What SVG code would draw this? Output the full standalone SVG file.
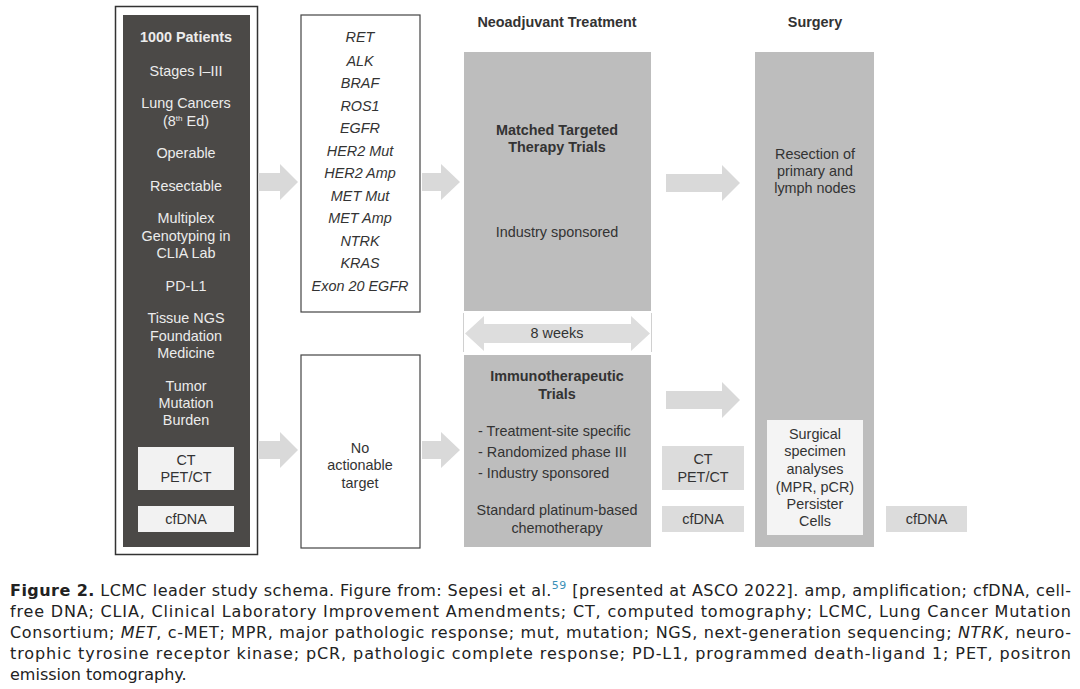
<svg xmlns="http://www.w3.org/2000/svg" width="1080" height="689" viewBox="0 0 1080 689">
<style>
  text { font-family: "Liberation Sans", Arial, sans-serif; font-size: 14.4px; fill: #333333; }
  .c { text-anchor: middle; }
  .w { fill: #ececec; }
  .b { font-weight: bold; }
  .i { font-style: italic; }
  .arrow { fill: #d9d9d9; }
  .dark { fill: #4b4947; }
  .gray { fill: #bdbdbd; }
  .light { fill: #dcdcdc; }
  .cap { font-family: "DejaVu Sans", Verdana, sans-serif; font-size: 16px; fill: #222222; }
</style>
<rect width="1080" height="689" fill="#ffffff"/>

<g id="patients">
  <rect x="115.5" y="6.5" width="142" height="548" fill="#ffffff" stroke="#333333" stroke-width="1.5"/>
  <rect x="123" y="15" width="127" height="532" class="dark"/>
  <text x="186" y="42" class="c w b">1000 Patients</text>
  <text x="186" y="76" class="c w">Stages I–III</text>
  <text x="186" y="108" class="c w">Lung Cancers</text>
  <text x="186" y="126" class="c w">(8<tspan font-size="8" dy="-5">th</tspan><tspan dy="5"> Ed)</tspan></text>
  <text x="186" y="158" class="c w">Operable</text>
  <text x="186" y="191" class="c w">Resectable</text>
  <text x="186" y="223" class="c w">Multiplex</text>
  <text x="186" y="241" class="c w">Genotyping in</text>
  <text x="186" y="258" class="c w">CLIA Lab</text>
  <text x="186" y="291" class="c w">PD-L1</text>
  <text x="186" y="323" class="c w">Tissue NGS</text>
  <text x="186" y="341" class="c w">Foundation</text>
  <text x="186" y="358" class="c w">Medicine</text>
  <text x="186" y="391" class="c w">Tumor</text>
  <text x="186" y="408" class="c w">Mutation</text>
  <text x="186" y="425" class="c w">Burden</text>
  <rect x="138" y="447" width="96" height="43" fill="#f2f2f2"/>
  <text x="186" y="465" class="c">CT</text>
  <text x="186" y="482" class="c">PET/CT</text>
  <rect x="138" y="506" width="96" height="26" fill="#f2f2f2"/>
  <text x="186" y="524" class="c">cfDNA</text>
</g>

<g id="targets">
  <rect x="301" y="15" width="119" height="297" fill="#ffffff" stroke="#444444" stroke-width="1.2"/>
  <text x="360" y="42" class="c i">RET</text>
  <text x="360" y="66" class="c i">ALK</text>
  <text x="360" y="88" class="c i">BRAF</text>
  <text x="360" y="111" class="c i">ROS1</text>
  <text x="360" y="133" class="c i">EGFR</text>
  <text x="360" y="156" class="c i">HER2 Mut</text>
  <text x="360" y="178" class="c i">HER2 Amp</text>
  <text x="360" y="201" class="c i">MET Mut</text>
  <text x="360" y="223" class="c i">MET Amp</text>
  <text x="360" y="246" class="c i">NTRK</text>
  <text x="360" y="268" class="c i">KRAS</text>
  <text x="360" y="291" class="c i">Exon 20 EGFR</text>
</g>

<g id="no-target">
  <rect x="301" y="355" width="119" height="193" fill="#ffffff" stroke="#444444" stroke-width="1.2"/>
  <text x="360" y="453" class="c">No</text>
  <text x="360" y="470" class="c">actionable</text>
  <text x="360" y="488" class="c">target</text>
</g>

<g id="headers">
  <text x="557" y="27" class="c b">Neoadjuvant Treatment</text>
  <text x="815" y="27" class="c b">Surgery</text>
</g>

<g id="matched">
  <rect x="464" y="52" width="187" height="259" class="gray"/>
  <text x="557" y="135" class="c b">Matched Targeted</text>
  <text x="557" y="152" class="c b">Therapy Trials</text>
  <text x="557" y="237" class="c">Industry sponsored</text>
</g>

<g id="immuno">
  <rect x="464" y="355" width="187" height="192" class="gray"/>
  <text x="557" y="381" class="c b">Immunotherapeutic</text>
  <text x="557" y="399" class="c b">Trials</text>
  <text x="478" y="436">- Treatment-site specific</text>
  <text x="478" y="457">- Randomized phase III</text>
  <text x="478" y="478">- Industry sponsored</text>
  <text x="557" y="515" class="c">Standard platinum-based</text>
  <text x="557" y="533" class="c">chemotherapy</text>
</g>

<g id="imaging-mid">
  <rect x="662" y="446" width="82" height="44" class="light"/>
  <text x="703" y="464" class="c">CT</text>
  <text x="703" y="482" class="c">PET/CT</text>
  <rect x="662" y="506" width="82" height="26" class="light"/>
  <text x="703" y="524" class="c">cfDNA</text>
</g>

<g id="surgery">
  <rect x="755" y="52" width="119" height="495" class="gray"/>
  <text x="815" y="159" class="c">Resection of</text>
  <text x="815" y="176" class="c">primary and</text>
  <text x="815" y="193" class="c">lymph nodes</text>
  <rect x="767" y="420" width="96" height="115" fill="#f4f4f4"/>
  <text x="815" y="439" class="c">Surgical</text>
  <text x="815" y="456" class="c">specimen</text>
  <text x="815" y="474" class="c">analyses</text>
  <text x="815" y="492" class="c">(MPR, pCR)</text>
  <text x="815" y="509" class="c">Persister</text>
  <text x="815" y="526" class="c">Cells</text>
</g>

<g id="cfdna-right">
  <rect x="886" y="506" width="81" height="26" class="light"/>
  <text x="926.5" y="524" class="c">cfDNA</text>
</g>

<g id="connectors">
  <path class="arrow" d="M258,173 H280 V164 L298,182 L280,200 V191 H258 Z"/>
  <path class="arrow" d="M422,173 H441 V164 L460,182 L441,200 V191 H422 Z"/>
  <path class="arrow" d="M666,174 H722 V165 L740,183 L722,201 V192 H666 Z"/>
  <path class="arrow" d="M258,441 H280 V432 L298,450 L280,468 V459 H258 Z"/>
  <path class="arrow" d="M422,441 H441 V432 L460,450 L441,468 V459 H422 Z"/>
  <path class="arrow" d="M666,391 H722 V382 L740,400 L722,418 V409 H666 Z"/>
  <g id="eight-weeks">
    <line x1="463.5" y1="313" x2="463.5" y2="352" stroke="#d0d0d0" stroke-width="1"/>
    <line x1="651.5" y1="313" x2="651.5" y2="352" stroke="#d0d0d0" stroke-width="1"/>
    <path d="M465,333.5 L484,316 V324 H631 V316 L650,333.5 L631,351 V343 H484 V351 Z" fill="#dddddd"/>
    <text x="557" y="338" class="c">8 weeks</text>
  </g>
</g>

<g id="caption">
  <text x="10" y="596" class="cap" textLength="1061" lengthAdjust="spacing"><tspan font-weight="bold">Figure 2.</tspan> LCMC leader study schema. Figure from: Sepesi et al.<tspan font-size="11" dy="-7" fill="#3a8fb7">59</tspan><tspan dy="7"> [presented at ASCO 2022]. amp, amplification; cfDNA, cell-</tspan></text>
  <text x="10" y="617" class="cap" textLength="1061" lengthAdjust="spacing">free DNA; CLIA, Clinical Laboratory Improvement Amendments; CT, computed tomography; LCMC, Lung Cancer Mutation</text>
  <text x="10" y="638" class="cap" textLength="1061" lengthAdjust="spacing">Consortium; <tspan font-style="italic">MET</tspan>, c-MET; MPR, major pathologic response; mut, mutation; NGS, next-generation sequencing; <tspan font-style="italic">NTRK</tspan>, neuro-</text>
  <text x="10" y="659" class="cap" textLength="1061" lengthAdjust="spacing">trophic tyrosine receptor kinase; pCR, pathologic complete response; PD-L1, programmed death-ligand 1; PET, positron</text>
  <text x="10" y="680" class="cap">emission tomography.</text>
</g>
</svg>
